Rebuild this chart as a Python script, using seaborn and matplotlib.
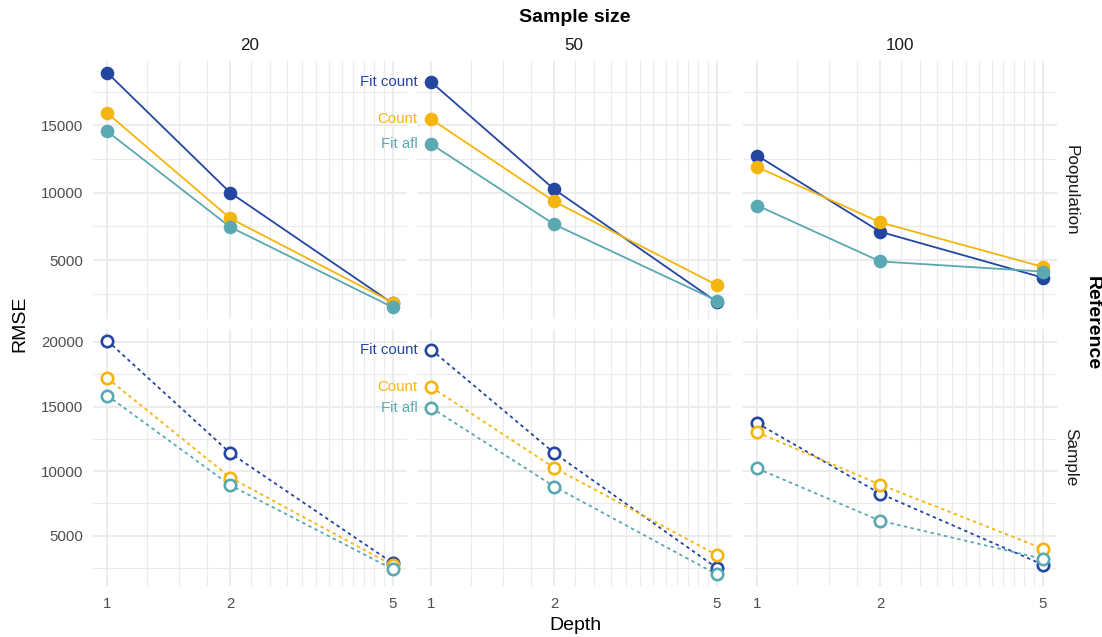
import numpy as np
import pandas as pd
import matplotlib
matplotlib.use("Agg")
import matplotlib.pyplot as plt
import seaborn as sns

# ---------------- data ----------------
depths = [1, 2, 5]
sample_sizes = [20, 50, 100]
references = ["Poopulation", "Sample"]
methods = ["Fit count", "Count", "Fit afl"]

# RMSE values, per reference / sample size, ordered by depth 1, 2, 5
pop_fit_count = {20: [18900, 10000, 1780], 50: [18200, 10250, 1900], 100: [12750, 7100, 3700]}
pop_count     = {20: [15900, 8100, 1850],  50: [15450, 9350, 3150],  100: [11900, 7800, 4500]}
pop_fit_afl   = {20: [14550, 7450, 1500],  50: [13600, 7650, 2000],  100: [9050, 4900, 4150]}

smp_fit_count = {20: [20100, 11400, 2870], 50: [19400, 11400, 2500], 100: [13700, 8250, 2750]}
smp_count     = {20: [17200, 9500, 2700],  50: [16500, 10250, 3500], 100: [13000, 8950, 4000]}
smp_fit_afl   = {20: [15850, 8900, 2400],  50: [14900, 8800, 2000],  100: [10200, 6150, 3200]}

colors = {"Fit count": "#2346A0", "Count": "#F5B50F", "Fit afl": "#5AA8B2"}

rows = []
for ref, tables in zip(references, [(pop_fit_count, pop_count, pop_fit_afl),
                                    (smp_fit_count, smp_count, smp_fit_afl)]):
    for m, tab in zip(methods, tables):
        for n in sample_sizes:
            for d, v in zip(depths, tab[n]):
                rows.append(dict(Reference=ref, Method=m, SampleSize=n, Depth=d, RMSE=v))
df = pd.DataFrame(rows)

# ---------------- style ----------------
sns.set_theme(style="white")
plt.rcParams["font.family"] = ["Liberation Sans", "DejaVu Sans"]

W, H = 1102, 637
fig = plt.figure(figsize=(W / 100, H / 100), dpi=100)

col_left = [93, 417, 743]
panel_w = 314
row_top = [61, 329]
row_h = [258, 257]

grid_major = "#EBEBEB"
tick_col = "#4D4D4D"
strip_fs = 12.3

xlo = 10 ** (-0.05 * np.log10(5))
xhi = 10 ** (1.05 * np.log10(5))
x_minor = [v for v in np.arange(1.0, 5.01, 0.25) if v not in (1.0, 2.0, 5.0)]

for r, ref in enumerate(references):
    sub_r = df[df.Reference == ref]
    lo, hi = sub_r.RMSE.min(), sub_r.RMSE.max()
    rng = hi - lo
    ylim = (lo - 0.05 * rng, hi + 0.05 * rng)
    if ref == "Poopulation":
        ymaj = [5000, 10000, 15000]
    else:
        ymaj = [5000, 10000, 15000, 20000]
    ymin = [v for v in np.arange(2500, 25000, 5000) if ylim[0] < v < ylim[1]]
    for c, n in enumerate(sample_sizes):
        ax = fig.add_axes([col_left[c] / W, 1 - (row_top[r] + row_h[r]) / H,
                           panel_w / W, row_h[r] / H])
        ax.set_xscale("log")
        ax.set_xlim(xlo, xhi)
        ax.set_ylim(*ylim)
        # grid
        for v in x_minor:
            ax.axvline(v, color=grid_major, lw=0.8, zorder=0)
        for v in depths:
            ax.axvline(v, color=grid_major, lw=1.3, zorder=0)
        for v in ymin:
            ax.axhline(v, color=grid_major, lw=0.8, zorder=0)
        for v in ymaj:
            ax.axhline(v, color=grid_major, lw=1.3, zorder=0)

        sub = sub_r[sub_r.SampleSize == n]
        ls = "-" if ref == "Poopulation" else (0, (1.9, 1.9))
        # lines
        sns.lineplot(data=sub, x="Depth", y="RMSE", hue="Method", hue_order=methods,
                     palette=colors, ax=ax, legend=False, lw=1.3, linestyle=ls,
                     zorder=2)
        # points
        for i, m in enumerate(methods):
            sm = sub[sub.Method == m]
            if ref == "Poopulation":
                sns.lineplot(data=sm, x="Depth", y="RMSE", ax=ax, legend=False,
                             linestyle="none", marker="o", markersize=9.8,
                             markerfacecolor=colors[m], markeredgecolor=colors[m],
                             markeredgewidth=0, color=colors[m], zorder=3 + i)
            else:
                sns.lineplot(data=sm, x="Depth", y="RMSE", ax=ax, legend=False,
                             linestyle="none", marker="o", markersize=8.2,
                             markerfacecolor="white", markeredgecolor=colors[m],
                             markeredgewidth=1.9, color=colors[m], zorder=3 + i)
            if n == 50:
                y0 = sm[sm.Depth == 1].RMSE.iloc[0]
                ax.annotate(m, xy=(1, y0), xytext=(-10, 0), textcoords="offset points",
                            ha="right", va="center", color=colors[m], fontsize=10.8,
                            annotation_clip=False, zorder=10)

        ax.set_xticks(depths)
        ax.set_xticklabels([str(d) for d in depths] if r == 1 else [])
        ax.xaxis.set_minor_locator(matplotlib.ticker.NullLocator())
        ax.set_yticks(ymaj)
        ax.set_yticklabels([str(v) for v in ymaj] if c == 0 else [])
        ax.tick_params(axis="both", length=0, labelsize=10.8, colors=tick_col)
        ax.tick_params(axis="x", pad=8)
        ax.tick_params(axis="y", pad=7)
        ax.set_xlabel("")
        ax.set_ylabel("")
        for s in ax.spines.values():
            s.set_visible(False)
        ax.set_facecolor("none")

        if r == 0:
            fig.text((col_left[c] + panel_w / 2) / W, 1 - 45 / H, str(n),
                     ha="center", va="center", fontsize=strip_fs, color="#1A1A1A")
    fig.text(1071 / W, 1 - (row_top[r] + row_h[r] / 2) / H, ref, rotation=270,
             ha="center", va="center", fontsize=strip_fs, color="#1A1A1A")

mid_x = (col_left[0] + col_left[2] + panel_w) / 2
mid_y = (row_top[0] + row_top[1] + row_h[1]) / 2
fig.text(mid_x / W, 1 - 18 / H, "Sample size", ha="center", va="center",
         fontsize=14, fontweight="bold", color="black")
fig.text(1092 / W, 1 - mid_y / H, "Reference", rotation=270, ha="center", va="center",
         fontsize=14, fontweight="bold", color="black")
fig.text(20 / W, 1 - mid_y / H, "RMSE", rotation=90, ha="center", va="center",
         fontsize=14, color="black")
fig.text(mid_x / W, 1 - 625 / H, "Depth", ha="center", va="center",
         fontsize=14, color="black")

fig.savefig("out.png", dpi=100, facecolor="white")
